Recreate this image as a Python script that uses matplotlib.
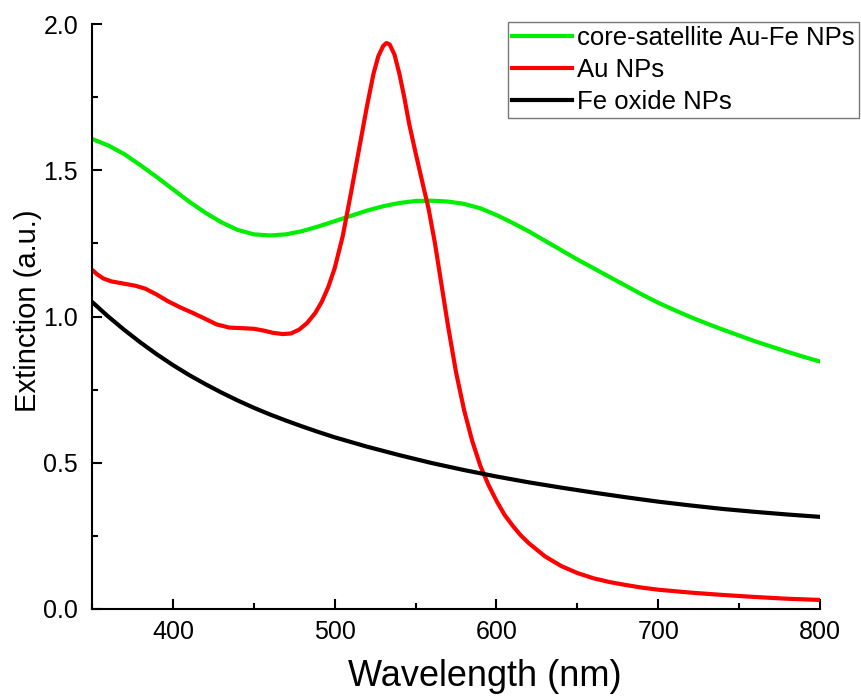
import matplotlib
matplotlib.use("Agg")
import matplotlib.pyplot as plt
from matplotlib.ticker import MultipleLocator, FormatStrFormatter

plt.rcParams['font.family'] = ['Liberation Sans', 'DejaVu Sans']

# values
wl_green = [350, 360, 370, 380, 390, 400, 410, 420, 430, 440, 450, 460, 470, 480,
            490, 500, 510, 520, 530, 540, 550, 560, 570, 580, 590, 600, 610, 620,
            630, 640, 650, 660, 670, 680, 690, 700, 710, 720, 730, 740, 750, 760,
            770, 780, 790, 800]
core_sat = [1.607, 1.585, 1.555, 1.517, 1.477, 1.435, 1.393, 1.355, 1.322, 1.296,
            1.281, 1.277, 1.281, 1.292, 1.308, 1.326, 1.344, 1.362, 1.377, 1.388,
            1.395, 1.396, 1.393, 1.385, 1.370, 1.347, 1.320, 1.291, 1.259, 1.227,
            1.195, 1.165, 1.135, 1.105, 1.075, 1.047, 1.022, 0.998, 0.976, 0.955,
            0.935, 0.915, 0.897, 0.879, 0.862, 0.846]

wl_red = [350, 353, 357, 362, 370, 377, 383, 390, 397, 405, 412, 420, 427, 435,
          443, 450, 456, 462, 468, 473, 478, 483, 488, 492, 496, 500, 505, 510,
          515, 520, 524, 527, 530, 532, 534, 537, 540, 543, 546, 550, 555, 558,
          562, 566, 570, 575, 580, 585, 590, 595, 600, 605, 610, 615, 620, 630,
          640, 650, 660, 670, 680, 690, 700, 720, 740, 760, 780, 800]
au_nps = [1.160, 1.145, 1.130, 1.120, 1.112, 1.105, 1.095, 1.075, 1.052, 1.030,
          1.013, 0.992, 0.973, 0.962, 0.960, 0.958, 0.952, 0.944, 0.940, 0.942,
          0.955, 0.978, 1.012, 1.050, 1.100, 1.165, 1.275, 1.420, 1.570, 1.720,
          1.830, 1.890, 1.925, 1.935, 1.930, 1.895, 1.830, 1.750, 1.660, 1.560,
          1.440, 1.370, 1.250, 1.110, 0.970, 0.810, 0.680, 0.575, 0.490, 0.425,
          0.370, 0.322, 0.285, 0.252, 0.225, 0.180, 0.147, 0.123, 0.105, 0.092,
          0.082, 0.073, 0.066, 0.056, 0.048, 0.041, 0.035, 0.031]

wl_black = [350, 360, 370, 380, 390, 400, 410, 420, 430, 440, 450, 460, 470, 480,
            490, 500, 520, 540, 560, 580, 600, 620, 640, 660, 680, 700, 720, 740,
            760, 780, 800]
fe_oxide = [1.050, 1.000, 0.954, 0.911, 0.871, 0.834, 0.800, 0.769, 0.740, 0.713,
            0.688, 0.665, 0.644, 0.624, 0.605, 0.587, 0.555, 0.526, 0.499, 0.475,
            0.453, 0.433, 0.415, 0.398, 0.382, 0.367, 0.354, 0.342, 0.332, 0.323,
            0.315]

fig = plt.figure(figsize=(8.62, 6.96), dpi=100)
ax = fig.add_axes([92 / 862, 87 / 696, 728 / 862, 585 / 696])

ax.plot(wl_green, core_sat, color='#00ee00', lw=3, label='core-satellite Au-Fe NPs')
ax.plot(wl_red, au_nps, color='#ff0000', lw=3, label='Au NPs')
ax.plot(wl_black, fe_oxide, color='black', lw=3, label='Fe oxide NPs')

ax.set_xlim(350, 800)
ax.set_ylim(0, 2.0)
ax.xaxis.set_major_locator(MultipleLocator(100))
ax.xaxis.set_minor_locator(MultipleLocator(50))
ax.yaxis.set_major_locator(MultipleLocator(0.5))
ax.yaxis.set_minor_locator(MultipleLocator(0.25))
ax.yaxis.set_major_formatter(FormatStrFormatter('%.1f'))

for s in ['top', 'right']:
    ax.spines[s].set_visible(False)
for s in ['left', 'bottom']:
    ax.spines[s].set_linewidth(1.5)

ax.tick_params(which='major', direction='in', length=7, width=1.5, labelsize=18,
               colors='black')
ax.tick_params(axis='x', which='major', pad=8)
ax.tick_params(axis='y', which='major', pad=10)
ax.tick_params(which='minor', direction='in', length=4, width=1.5)

ax.set_xlabel('Wavelength (nm)', fontsize=26, labelpad=11)
ax.xaxis.label.set_x(0.54)
ax.set_ylabel('Extinction (a.u.)', fontsize=21, labelpad=1)
ax.yaxis.label.set_y(0.51)

leg = ax.legend(loc='upper left', bbox_to_anchor=(508 / 862, 1 - 22 / 696),
                bbox_transform=fig.transFigure, borderaxespad=0, fontsize=18.5,
                frameon=True, fancybox=False, edgecolor='#555555',
                handlelength=2.35, handletextpad=0.2, labelspacing=0.32,
                borderpad=0.15)
leg.get_frame().set_linewidth(1)

fig.savefig('out.png', dpi=100)
